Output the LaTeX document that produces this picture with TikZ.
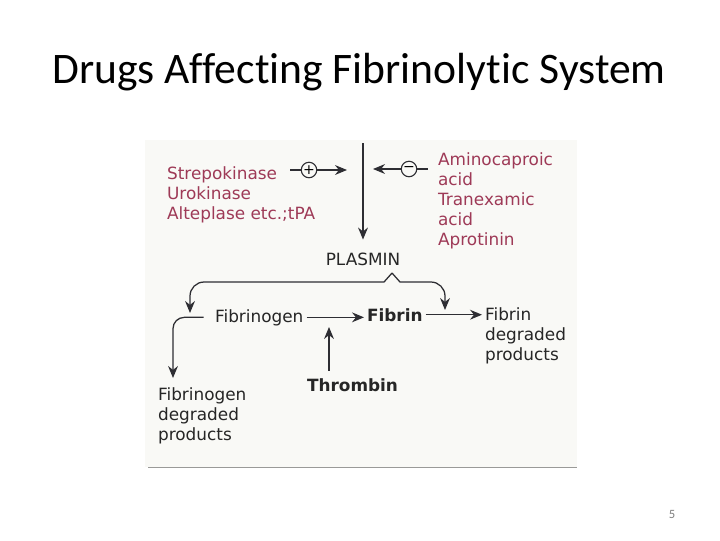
\documentclass[tikz,border=0pt]{standalone}
\usepackage{fontspec}
\setmainfont{Carlito}[Ligatures={NoCommon}]
\newfontfamily\diagfont{DejaVu Sans}
\usetikzlibrary{arrows.meta,positioning}
\definecolor{ink}{HTML}{2E2E33}
\definecolor{wine}{HTML}{9E3A57}
\definecolor{scan}{HTML}{F9F9F6}
\definecolor{scanedge}{HTML}{9A9A98}
\definecolor{pagegray}{HTML}{7F7F7F}
\tikzset{txt/.style={font=\diagfont\fontsize{12}{14.2}\selectfont,text=black!85,inner xsep=2pt,inner ysep=1pt,align=left},drug/.style={txt,text=wine},bold/.style={txt,font=\diagfont\bfseries\fontsize{12}{14.2}\selectfont},sign/.style={circle,draw=ink,line width=0.8pt,inner sep=0pt,minimum size=11pt,font=\diagfont\fontsize{10}{10}\selectfont},line/.style={line width=0.9pt,draw=ink},arr/.style={-{Stealth[length=8.5pt,width=7pt]},line width=0.9pt,draw=ink}}

\begin{document}
\begin{tikzpicture}[x=0.025cm,y=-0.025cm]
\useasboundingbox (0,0) rectangle (720,540);
\fill[scan] (145,140) rectangle (577,467);
\draw[scanedge,line width=0.6pt] (148,467) -- (577,467);
\node[anchor=base,font=\fontsize{31}{36}\selectfont] (title) at (359,83) {Drugs Affecting Fibrinolytic System};
\node[anchor=base,font=\fontsize{9}{10}\selectfont,text=pagegray] (page) at (672,518) {5};
% activators and inhibitors
\node[drug,anchor=base west] (strep) at (164,179) {Strepokinase};
\node[drug,anchor=base west] (uro) at (164,199) {Urokinase};
\node[drug,anchor=base west] (alte) at (164,219) {Alteplase etc.;tPA};
\node[drug,anchor=north west] (inhib) at (435,151) {Aminocaproic\\acid\\Tranexamic\\acid\\Aprotinin};
\node[sign] (plus) at (309,170) {+};
\node[sign] (minus) at (409,169) {−};
\node[txt,anchor=base] (plasmin) at (363,265) {PLASMIN};
\coordinate (top) at (363,143);
\coordinate (plustip) at (347,170);
\coordinate (minustip) at (373,169);
\draw[arr,shorten >=8pt] (top) -- (plasmin.north);
\draw[line] ([xshift=7pt]strep.east |- plus) -- (plus);
\draw[arr] (plus) -- (plustip);
\draw[line,shorten >=5pt] (minus) -- (minus -| inhib.west);
\draw[arr] (minus) -- (minustip);
% plasmin acts on both
\coordinate (peak) at (392,273);
\coordinate (fgtip) at (190,313);
\coordinate (fbtip) at (445,310);
\draw[arr] (peak) -- (384,282) [rounded corners=10pt] -| (fgtip);
\draw[arr] (peak) -- (400,282) [rounded corners=10pt] -| (fbtip);
% clotting and breakdown
\node[txt,anchor=base west] (fgen) at (212,322) {Fibrinogen};
\node[bold,anchor=base west] (fib) at (364,321) {Fibrin};
\node[txt,anchor=north west] (fibdp) at (482,306) {Fibrin\\degraded\\products};
\node[bold,anchor=base west] (thr) at (304,391) {Thrombin};
\node[txt,anchor=north west] (fgdp) at (155,386) {Fibrinogen\\degraded\\products};
\coordinate (fgdptip) at (173,378);
\coordinate (thrtip) at (329,327);
\draw[arr] (fgen.east) -- (fgen.east -| fib.west);
\draw[arr] (fib.east) -- (fib.east -| fibdp.west);
\draw[arr,rounded corners=8pt,shorten <=6pt] (fgen.west) -| (fgdptip);
\draw[arr] ([yshift=4pt]thrtip |- thr.north) -- (thrtip);
\end{tikzpicture}
\end{document}
